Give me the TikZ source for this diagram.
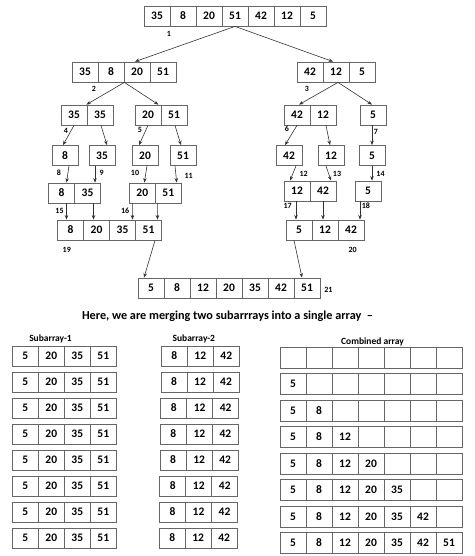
\documentclass[tikz,border=0pt]{standalone}
\usepackage{fontspec}
\setmainfont{Carlito}
\usetikzlibrary{arrows.meta,calc}
\tikzset{
  % one box of an array
  arraycell/.style={draw=black!60, line width=0.8pt, minimum width=26pt,
    minimum height=20pt, inner sep=0pt,
    font=\bfseries\fontsize{11.5}{12}\selectfont},
  % number of a step, next to a box
  steplabel/.style={inner sep=0pt, font=\bfseries\fontsize{8}{9}\selectfont},
  % name over a column of arrays
  headlabel/.style={inner sep=0pt, font=\bfseries\fontsize{9.5}{10}\selectfont},
  % arrow from one array to the next
  split arrow/.style={draw=black!80, line width=0.6pt,
    -{Stealth[length=4.5pt,width=3.5pt]}},
}
% a row of boxes: name, left x, top y, values
\newcommand\cellrow[4]{%
  \foreach \v [count=\i] in {#4} {
    \node[arraycell] (#1-\i) at ({#2+(\i-0.5)*26},{#3+10}) {\v};
  }%
}

\begin{document}
\begin{tikzpicture}[x=1pt,y=-1pt]
\useasboundingbox (0,0) rectangle (474,556);

% Splitting
\cellrow{a0}{144}{6}{35,8,20,51,42,12,5}
\cellrow{b1}{72}{62}{35,8,20,51}
\cellrow{b2}{297}{62}{42,12,5}
\cellrow{c1}{61}{105}{35,35}
\cellrow{c2}{135}{105}{20,51}
\cellrow{c3}{284}{105}{42,12}
\cellrow{c4}{360}{105}{5}
\cellrow{d1}{52}{145.5}{8}
\cellrow{d2}{89}{145.5}{35}
\cellrow{d3}{132}{145.5}{20}
\cellrow{d4}{170}{145.5}{51}
\cellrow{d5}{276}{145.5}{42}
\cellrow{d6}{318}{145.5}{12}
\cellrow{d7}{359}{145.5}{5}

% Merging
\cellrow{e1}{48.5}{183}{8,35}
\cellrow{e2}{129.3}{183}{20,51}
\cellrow{e3}{284}{181}{12,42}
\cellrow{e4}{355}{181}{5}
\cellrow{f1}{57.5}{220}{8,20,35,51}
\cellrow{f2}{286}{220}{5,12,42}
\cellrow{g0}{138}{278}{5,8,12,20,35,42,51}

\draw[split arrow] (a0-4.south) -- ([xshift=-2pt]b1-3.north);
\draw[split arrow] (a0-4.south) -- ([xshift=-3pt]b2-2.north);
\draw[split arrow] (b1-2.south east) -- ([xshift=-1pt]c1-1.north east);
\draw[split arrow] (b1-2.south east) -- ([xshift=-3pt]c2-1.north east);
\draw[split arrow] ([xshift=2pt]b2-2.south) -- ([xshift=2pt]c3-1.north);
\draw[split arrow] ([xshift=2pt]b2-2.south) -- ([xshift=-1pt]c4-1.north);
\draw[split arrow] (c1-1.south) -- ([xshift=-2pt]d1-1.north);
\draw[split arrow] ([xshift=1pt]c1-2.south) -- ([xshift=5pt]d2-1.north);
\draw[split arrow] (c2-1.south) -- ([xshift=-6pt]d3-1.north);
\draw[split arrow] ([xshift=1pt]c2-2.south) -- ([xshift=-2pt]d4-1.north);
\draw[split arrow] (c3-1.south) -- ([xshift=-4pt]d5-1.north);
\draw[split arrow] ([xshift=3pt]c3-2.south) -- ([xshift=-1pt]d6-1.north);
\draw[split arrow] ([xshift=-1pt]c4-1.south) -- (d7-1.north);
\draw[split arrow] ([xshift=4pt]d1-1.south) -- ([xshift=5pt]e1-1.north);
\draw[split arrow] ([xshift=-7pt]d2-1.south) -- ([xshift=7.5pt]e1-2.north);
\draw[split arrow] ([xshift=2pt]d3-1.south) -- ([xshift=2pt]e2-1.north);
\draw[split arrow] ([xshift=-8pt]d4-1.south) -- ([xshift=8.4pt]e2-2.north);
\draw[split arrow] ([xshift=7pt]d5-1.south) -- ([xshift=-7pt]e3-1.north);
\draw[split arrow] ([xshift=-5pt]d6-1.south) -- ([xshift=8pt]e3-2.north);
\draw[split arrow] (d7-1.south) -- ([xshift=4pt]e4-1.north);
\draw[split arrow] ([xshift=5pt]e1-1.south) -- ([xshift=-4pt]f1-1.north);
\draw[split arrow] ([xshift=6pt]e1-2.south) -- ([xshift=-3pt]f1-2.north);
\draw[split arrow] ([xshift=-10pt]e2-1.south) -- ([xshift=10pt]f1-3.north);
\draw[split arrow] ([xshift=-11pt]e2-2.south) -- ([xshift=9pt]f1-4.north);
\draw[split arrow] ([xshift=-1pt]e3-1.south) -- ([xshift=-3pt]f2-1.north);
\draw[split arrow] (e3-2.south) -- ([xshift=-2pt]f2-2.north);
\draw[split arrow] ([xshift=-8pt]e4-1.south) -- ([xshift=9pt]f2-3.north);
\draw[split arrow] ([xshift=6.5pt]f1-4.south) -- ([xshift=-7pt]g0-1.north);
\draw[split arrow] ([xshift=-5pt]f2-1.south) -- ([xshift=-5pt]g0-7.north);

% Step numbers
\foreach \n/\x/\y in {1/169/34, 2/94/89, 3/307/89, 4/66/131, 5/140/130,
    6/287/129, 7/376/131.5, 8/59/173, 9/101.7/173, 10/135/172.7,
    11/188.7/176, 12/303.7/174, 13/337/174, 14/380.5/174, 15/59.5/211,
    16/125.2/211, 17/287.7/206, 18/365.8/206, 19/66.8/250, 20/352.7/250,
    21/328.3/289.7}
  \node[steplabel] (n\n) at (\x,\y) {\n};

% Merge of the two halves
\node[font=\bfseries\fontsize{12.2}{14}\selectfont, inner sep=0pt] (head) at (227.5,316.7)
  {Here, we are merging two subarrrays into a single array\ \ –};
\node[headlabel] (sub1) at (50.5,339) {Subarray-1};
\node[headlabel] (sub2) at (193.8,339) {Subarray-2};
\node[headlabel] (comb) at (372.5,341.7) {Combined array};

\foreach \r in {0,...,7} {
  \cellrow{sa\r}{12.3}{346+26*\r}{5,20,35,51}
  \cellrow{sb\r}{161.3-0.3*\r}{346+26*\r}{8,12,42}
  \foreach \v [count=\k] in {5,8,12,20,35,42,51}
    \node[arraycell, minimum height=21pt] (cb\r-\k)
      at ({280+(\k-0.5)*26},{347+26.5*\r+10.5}) {\ifnum\k>\r\else\v\fi};
}

\end{tikzpicture}
\end{document}
